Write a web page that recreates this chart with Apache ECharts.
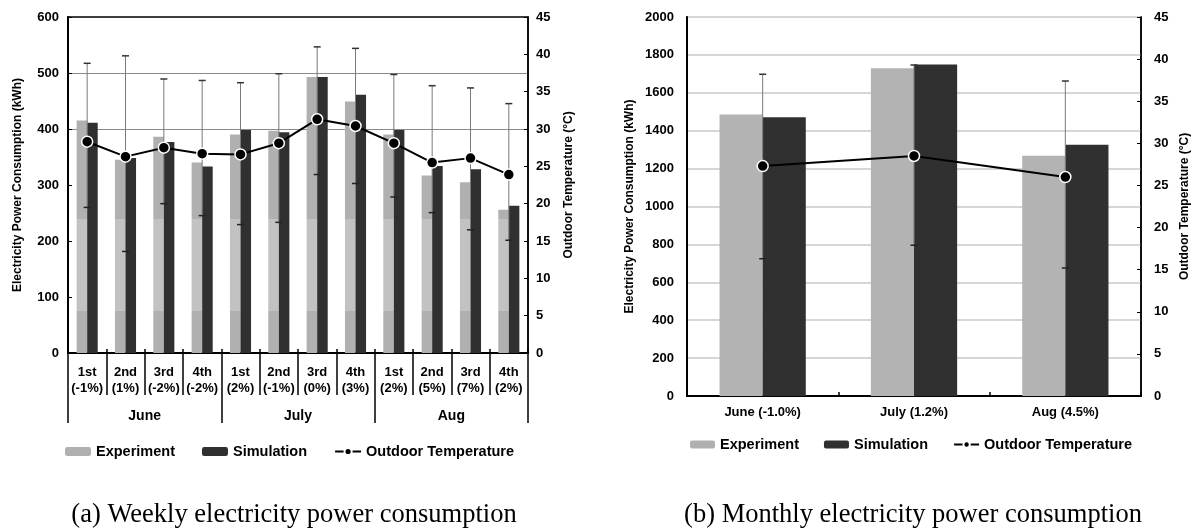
<!DOCTYPE html>
<html><head><meta charset="utf-8">
<script src="https://cdn.jsdelivr.net/npm/echarts@6/dist/echarts.min.js"></script>
<style>html,body{margin:0;padding:0;background:#fff}#c{width:1192px;height:529px}</style>
</head><body><div id="c"></div>
<script>
// ---- data ----
const weeks = ['1st','2nd','3rd','4th','1st','2nd','3rd','4th','1st','2nd','3rd','4th'];
const weekDiffs = ['(-1%)','(1%)','(-2%)','(-2%)','(2%)','(-1%)','(0%)','(3%)','(2%)','(5%)','(7%)','(2%)'];
const months = ['June','July','Aug'];
const weeklyExperiment = [415,345,386,340,390,397,493,449,390,317,305,256];
const weeklySimulation = [411,348,377,333,398,394,493,461,398,334,328,263];
const weeklyTemp = [28.3,26.3,27.5,26.7,26.6,28.1,31.3,30.4,28.1,25.5,26.1,23.9];
const weeklyTempLow = [19.5,13.6,20.0,18.4,17.2,17.5,23.9,22.7,20.9,18.8,16.5,15.1];
const weeklyTempHigh = [38.8,39.8,36.7,36.5,36.2,37.4,41.0,40.8,37.3,35.8,35.5,33.4];
const monthLabels = ['June (-1.0%)','July (1.2%)','Aug (4.5%)'];
const monthlyExperiment = [1486,1729,1268];
const monthlySimulation = [1471,1750,1326];
const monthlyTemp = [27.3,28.5,26.0];
const monthlyTempLow = [16.3,17.9,15.2];
const monthlyTempHigh = [38.2,39.3,37.4];
const seriesNames = ['Experiment','Simulation','Outdoor Temperature'];
const captions = ['(a) Weekly electricity power consumption','(b) Monthly electricity power consumption'];

// ---- chart ----
const FONT = '"Liberation Sans", Arial, sans-serif';
const lbl = (extra) => Object.assign({color:'#000', fontFamily:FONT, fontWeight:'bold', fontSize:13}, extra||{});
const weekCats = weeks.map((w,i)=> months[Math.floor(i/4)] + ' ' + w);

const G0 = {left:68, top:17, width:460, height:336};
const G1 = {left:687, top:17, width:455, height:379};

function errRender(params, api){
  const x = api.value(0);
  const lo = api.coord([x, api.value(1)]);
  const hi = api.coord([x, api.value(2)]);
  const h = 3.5;
  return {type:'group', children:[
    {type:'line', shape:{x1:lo[0], y1:lo[1], x2:hi[0], y2:hi[1]}, style:{stroke:'#7a7a7a', lineWidth:1}},
    {type:'line', shape:{x1:hi[0]-h, y1:hi[1], x2:hi[0]+h, y2:hi[1]}, style:{stroke:'#333', lineWidth:1.5}},
    {type:'line', shape:{x1:lo[0]-h, y1:lo[1], x2:lo[0]+h, y2:lo[1]}, style:{stroke:'#222', lineWidth:1.5}}
  ]};
}

const expLeftColor = {type:'linear', x:0, y:G0.top, x2:0, y2:G0.top+G0.height, global:true,
  colorStops:[{offset:0,color:'#b0b0b0'},{offset:0.6,color:'#b0b0b0'},{offset:0.6,color:'#c2c2c2'},
              {offset:0.875,color:'#c2c2c2'},{offset:0.875,color:'#b0b0b0'},{offset:1,color:'#b0b0b0'}]};

const axisBlack = (w)=>({show:true, lineStyle:{color:'#000', width:w}});
const plain = (v)=> String(v);
const captionFont = '26.5px "Liberation Serif", "Times New Roman", serif';

const option = {
  animation:false,
  backgroundColor:'#fff',
  grid:[
    Object.assign({show:true, borderColor:'#000', borderWidth:1.5, containLabel:false}, G0),
    Object.assign({show:true, borderColor:'#000', borderWidth:1.5, containLabel:false}, G1)
  ],
  legend:[
    {data:seriesNames, left:60, top:439, itemWidth:26, itemHeight:9, itemGap:27, textStyle:lbl({fontSize:14.5})},
    {data:seriesNames, left:685, top:432, itemWidth:25, itemHeight:8, itemGap:25, textStyle:lbl({fontSize:14.5})}
  ],
  xAxis:[
    {gridIndex:0, type:'category', data:weekCats, position:'bottom',
     axisLine:axisBlack(2), axisTick:{show:true, length:42, interval:0, lineStyle:{color:'#000', width:1.5}},
     axisLabel:lbl({interval:0, margin:11, lineHeight:16, formatter:(v,i)=> weeks[i]+'\n'+weekDiffs[i]}),
     splitLine:{show:false}},
    {gridIndex:0, type:'category', data:months, position:'bottom',
     axisLine:axisBlack(2), axisTick:{show:true, length:70, interval:0, lineStyle:{color:'#000', width:1.5}},
     axisLabel:lbl({interval:0, margin:56, fontSize:14}), splitLine:{show:false}},
    {gridIndex:0, type:'category', data:weekCats, position:'bottom',
     axisLine:{show:false}, axisTick:{show:true, inside:true, length:4, interval:0, lineStyle:{color:'#000', width:1.5}},
     axisLabel:{show:false}, splitLine:{show:false}},
    {gridIndex:1, type:'category', data:monthLabels, position:'bottom',
     axisLine:axisBlack(2), axisTick:{show:true, inside:true, length:4, interval:0, lineStyle:{color:'#000', width:1.5}},
     axisLabel:lbl({interval:0, margin:10}), splitLine:{show:false}}
  ],
  yAxis:[
    {gridIndex:0, type:'value', min:0, max:600, interval:100, position:'left',
     axisLine:axisBlack(2), axisTick:{show:true, inside:true, length:4, lineStyle:{color:'#000'}},
     axisLabel:lbl({margin:9, formatter:plain}),
     splitLine:{show:true, lineStyle:{width:1, color:['rgba(0,0,0,0)','rgba(0,0,0,0)','rgba(0,0,0,0)','rgba(0,0,0,0)','#8a8a8a','#8a8a8a','rgba(0,0,0,0)']}},
     name:'Electricity Power Consumption (kWh)', nameLocation:'middle', nameRotate:90, nameGap:44,
     nameTextStyle:lbl({fontSize:12})},
    {gridIndex:0, type:'value', min:0, max:45, interval:5, position:'right',
     axisLine:axisBlack(1.5), axisTick:{show:true, inside:true, length:4, lineStyle:{color:'#000'}},
     axisLabel:lbl({margin:8, formatter:plain}), splitLine:{show:false},
     name:'Outdoor Temperature (°C)', nameLocation:'middle', nameRotate:90, nameGap:35,
     nameTextStyle:lbl({fontSize:12})},
    {gridIndex:1, type:'value', min:0, max:2000, interval:200, position:'left',
     axisLine:axisBlack(2), axisTick:{show:false},
     axisLabel:lbl({margin:13, formatter:plain}),
     splitLine:{show:true, lineStyle:{width:2, color:'#d6d6d6'}},
     name:'Electricity Power Consumption (kWh)', nameLocation:'middle', nameRotate:90, nameGap:51,
     nameTextStyle:lbl({fontSize:12})},
    {gridIndex:1, type:'value', min:0, max:45, interval:5, position:'right',
     axisLine:axisBlack(1.5), axisTick:{show:true, inside:true, length:4, lineStyle:{color:'#000'}},
     axisLabel:lbl({margin:13, formatter:plain}), splitLine:{show:false},
     name:'Outdoor Temperature (°C)', nameLocation:'middle', nameRotate:90, nameGap:38,
     nameTextStyle:lbl({fontSize:12})}
  ],
  series:[
    {name:seriesNames[0], type:'bar', xAxisIndex:0, yAxisIndex:0, data:weeklyExperiment,
     barGap:'0%', barCategoryGap:'45%', itemStyle:{color:expLeftColor}, z:2},
    {name:seriesNames[1], type:'bar', xAxisIndex:0, yAxisIndex:0, data:weeklySimulation,
     barGap:'0%', barCategoryGap:'45%', itemStyle:{color:'#303030'}, z:2},
    {name:'errW', type:'custom', xAxisIndex:0, yAxisIndex:1, renderItem:errRender,
     data:weeklyTempLow.map((l,i)=>[i,l,weeklyTempHigh[i]]), encode:{x:0, y:[1,2]}, z:3, silent:true},
    {name:seriesNames[2], type:'line', xAxisIndex:0, yAxisIndex:1, data:weeklyTemp,
     symbol:'circle', symbolSize:11, lineStyle:{color:'#000', width:2},
     itemStyle:{color:'#000', borderColor:'#fff', borderWidth:1.5}, z:5},

    {name:seriesNames[0], type:'bar', xAxisIndex:3, yAxisIndex:2, data:monthlyExperiment,
     barGap:'0%', barCategoryGap:'43%', itemStyle:{color:'#b3b3b3'}, z:2},
    {name:seriesNames[1], type:'bar', xAxisIndex:3, yAxisIndex:2, data:monthlySimulation,
     barGap:'0%', barCategoryGap:'43%', itemStyle:{color:'#303030'}, z:2},
    {name:'errM', type:'custom', xAxisIndex:3, yAxisIndex:3, renderItem:errRender,
     data:monthlyTempLow.map((l,i)=>[i,l,monthlyTempHigh[i]]), encode:{x:0, y:[1,2]}, z:3, silent:true},
    {name:seriesNames[2], type:'line', xAxisIndex:3, yAxisIndex:3, data:monthlyTemp,
     symbol:'circle', symbolSize:11, lineStyle:{color:'#000', width:2},
     itemStyle:{color:'#000', borderColor:'#fff', borderWidth:1.5}, z:5}
  ],
  graphic:[
    {type:'text', style:{text:captions[0], font:captionFont, fill:'#000', textAlign:'center', textVerticalAlign:'middle'}, x:294, y:515},
    {type:'text', style:{text:captions[1], font:captionFont, fill:'#000', textAlign:'center', textVerticalAlign:'middle'}, x:913, y:515}
  ]
};

const chart = echarts.init(document.getElementById('c'), null, {renderer:'canvas'});
chart.setOption(option);
</script></body></html>
